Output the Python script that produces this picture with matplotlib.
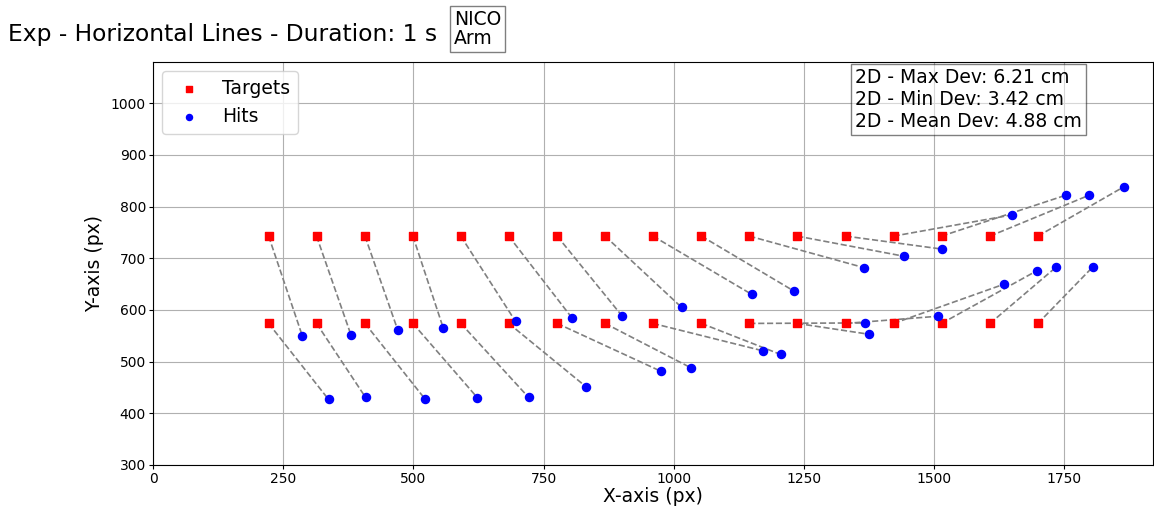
import numpy as np
import matplotlib
matplotlib.use("Agg")
import matplotlib.pyplot as plt

# target grid (two horizontal lines of 17 points each)
target_x = [222, 314, 407, 499, 591, 683, 776, 868, 960, 1053,
            1145, 1237, 1330, 1422, 1514, 1607, 1699]
target_y_top = 743
target_y_bottom = 574

# where the arm actually ended up, same order as the targets
hit_top_x = [287, 380, 470, 557, 696, 805, 901, 1015, 1150, 1230,
             1365, 1442, 1514, 1649, 1752, 1797, 1865]
hit_top_y = [549, 552, 561, 566, 578, 584, 588, 605, 630, 637,
             682, 704, 718, 784, 822, 822, 839]
hit_bot_x = [337, 408, 522, 623, 721, 832, 976, 1033, 1171, 1205,
             1367, 1375, 1508, 1634, 1697, 1734, 1805]
hit_bot_y = [427, 431, 428, 430, 431, 451, 481, 488, 521, 514,
             575, 553, 588, 650, 676, 683, 684]

max_dev = 6.21
min_dev = 3.42
mean_dev = 4.88

tx = np.array(target_x + target_x)
ty = np.array([target_y_top] * len(target_x) + [target_y_bottom] * len(target_x))
hx = np.array(hit_top_x + hit_bot_x)
hy = np.array(hit_top_y + hit_bot_y)

fig = plt.figure(figsize=(11.54, 5.08), dpi=100)
ax = fig.add_axes([153 / 1154, 43 / 508, 1000 / 1154, 403 / 508])

# connect every target to its hit
for i in range(len(tx)):
    ax.plot([tx[i], hx[i]], [ty[i], hy[i]], '--', color='gray', lw=1.2, zorder=2)

ax.scatter(tx, ty, c='red', marker='s', s=26, label='Targets', zorder=3)
ax.scatter(hx, hy, c='blue', marker='o', s=34, label='Hits', zorder=3)

ax.set_xlim(0, 1920)
ax.set_ylim(300, 1080)
ax.set_xticks([0, 250, 500, 750, 1000, 1250, 1500, 1750])
ax.set_yticks(range(300, 1001, 100))
ax.tick_params(labelsize=10, length=3, pad=2)
ax.grid(True, color='#b0b0b0', lw=0.8)
ax.set_axisbelow(True)
ax.set_xlabel('X-axis (px)', fontsize=13.5, labelpad=1)
ax.set_ylabel('Y-axis (px)', fontsize=13.5, labelpad=5)

ax.legend(loc='upper left', fontsize=13.5, markerscale=0.75)

stats = (f'2D - Max Dev: {max_dev:.2f} cm\n'
         f'2D - Min Dev: {min_dev:.2f} cm\n'
         f'2D - Mean Dev: {mean_dev:.2f} cm')
ax.text(0.702, 0.985, stats, transform=ax.transAxes, fontsize=13.5, va='top', ha='left',
        bbox=dict(facecolor='white', alpha=0.5, pad=3))

fig.text(8 / 1154, 1 - 35 / 508, 'Exp - Horizontal Lines - Duration: 1 s',
         fontsize=16.8, va='center', ha='left')
fig.text(454 / 1154, 1 - 29 / 508, 'NICO\nArm', fontsize=13.5, va='center', ha='left',
         linespacing=1.0, bbox=dict(facecolor='white', alpha=0.5, pad=2.5))

fig.savefig('out.png', dpi=100)
